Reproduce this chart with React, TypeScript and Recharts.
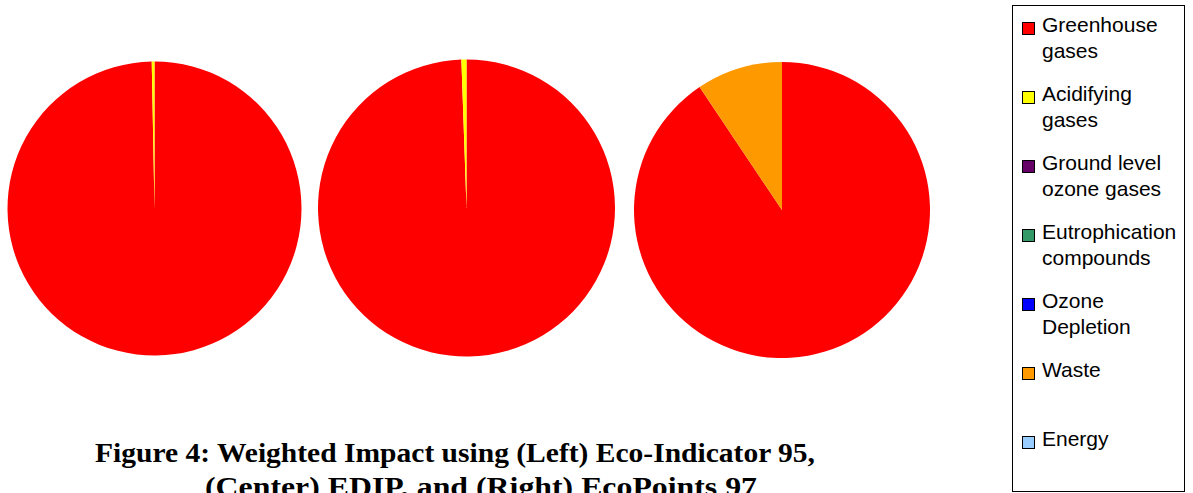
import { Cell, Legend, Pie, PieChart } from 'recharts';

// impact categories, in legend / slice order
const CATEGORIES = [
  'Greenhouse gases',
  'Acidifying gases',
  'Ground level ozone gases',
  'Eutrophication compounds',
  'Ozone Depletion',
  'Waste',
  'Energy',
];
const LEGEND_LINES = [
  ['Greenhouse', 'gases'],
  ['Acidifying', 'gases'],
  ['Ground level', 'ozone gases'],
  ['Eutrophication', 'compounds'],
  ['Ozone', 'Depletion'],
  ['Waste'],
  ['Energy'],
];
const COLORS = ['#FF0000', '#FFFF00', '#660066', '#339966', '#0000FF', '#FF9900', '#99CCFF'];

// weighted shares (%)
const ECO_INDICATOR_95 = [99.7, 0.3, 0, 0, 0, 0, 0];
const EDIP = [99.45, 0.55, 0, 0, 0, 0, 0];
const ECOPOINTS_97 = [90.6, 0, 0, 0, 0, 9.4, 0];

const CAPTION = [
  'Figure 4: Weighted Impact using (Left) Eco-Indicator 95,',
  '(Center) EDIP,  and (Right) EcoPoints 97',
];

const toRows = (values: number[]) => CATEGORIES.map((name, i) => ({ name, value: values[i] }));

const PIES = [
  { key: 'eco95', values: ECO_INDICATOR_95, cx: 154.5, cy: 208.5, r: 147 },
  { key: 'edip', values: EDIP, cx: 466.5, cy: 208, r: 148.5 },
  { key: 'ecopoints', values: ECOPOINTS_97, cx: 782, cy: 210, r: 148 },
];

const captionStyle = {
  fontFamily: '"Liberation Serif", "Times New Roman", serif',
  fontSize: 28,
  fontWeight: 700,
};

function BoxLegend() {
  return (
    <div
      style={{
        position: 'relative',
        width: 173,
        height: 487,
        border: '1px solid #000',
        boxSizing: 'border-box',
        background: '#fff',
        fontFamily: '"Liberation Sans", Arial, sans-serif',
        fontSize: 21,
        color: '#000',
      }}
    >
      {LEGEND_LINES.map((lines, i) => (
        <div key={i} style={{ position: 'absolute', left: 9, top: 6 + i * 69, lineHeight: '26px' }}>
          <span
            style={{
              position: 'absolute',
              left: 0,
              top: 10,
              width: 11,
              height: 11,
              background: COLORS[i],
              border: '1px solid #000',
            }}
          />
          {lines.map((l) => (
            <div key={l} style={{ marginLeft: 20, whiteSpace: 'nowrap' }}>
              {l}
            </div>
          ))}
        </div>
      ))}
    </div>
  );
}

export default function App() {
  return (
    <div style={{ position: 'absolute', left: 0, top: 0, width: 1193, height: 493, background: '#fff' }}>
      <PieChart width={1193} height={493} margin={{ top: 0, right: 0, bottom: 0, left: 0 }}>
        {PIES.map((p) => (
          <Pie
            key={p.key}
            data={toRows(p.values)}
            dataKey="value"
            nameKey="name"
            cx={p.cx}
            cy={p.cy}
            outerRadius={p.r}
            startAngle={90}
            endAngle={-270}
            stroke="none"
            legendType="square"
            isAnimationActive={false}
          >
            {CATEGORIES.map((c, i) => (
              <Cell key={c} fill={COLORS[i]} stroke="none" />
            ))}
          </Pie>
        ))}
        <Legend
          content={() => <BoxLegend />}
          wrapperStyle={{ left: 1012, top: 5, width: 173, height: 487 }}
        />
        <text x={95} y={462} textLength={720} lengthAdjust="spacingAndGlyphs" style={captionStyle}>
          {CAPTION[0]}
        </text>
        <text x={205} y={496} textLength={552} lengthAdjust="spacingAndGlyphs" style={captionStyle}>
          {CAPTION[1]}
        </text>
      </PieChart>
    </div>
  );
}
